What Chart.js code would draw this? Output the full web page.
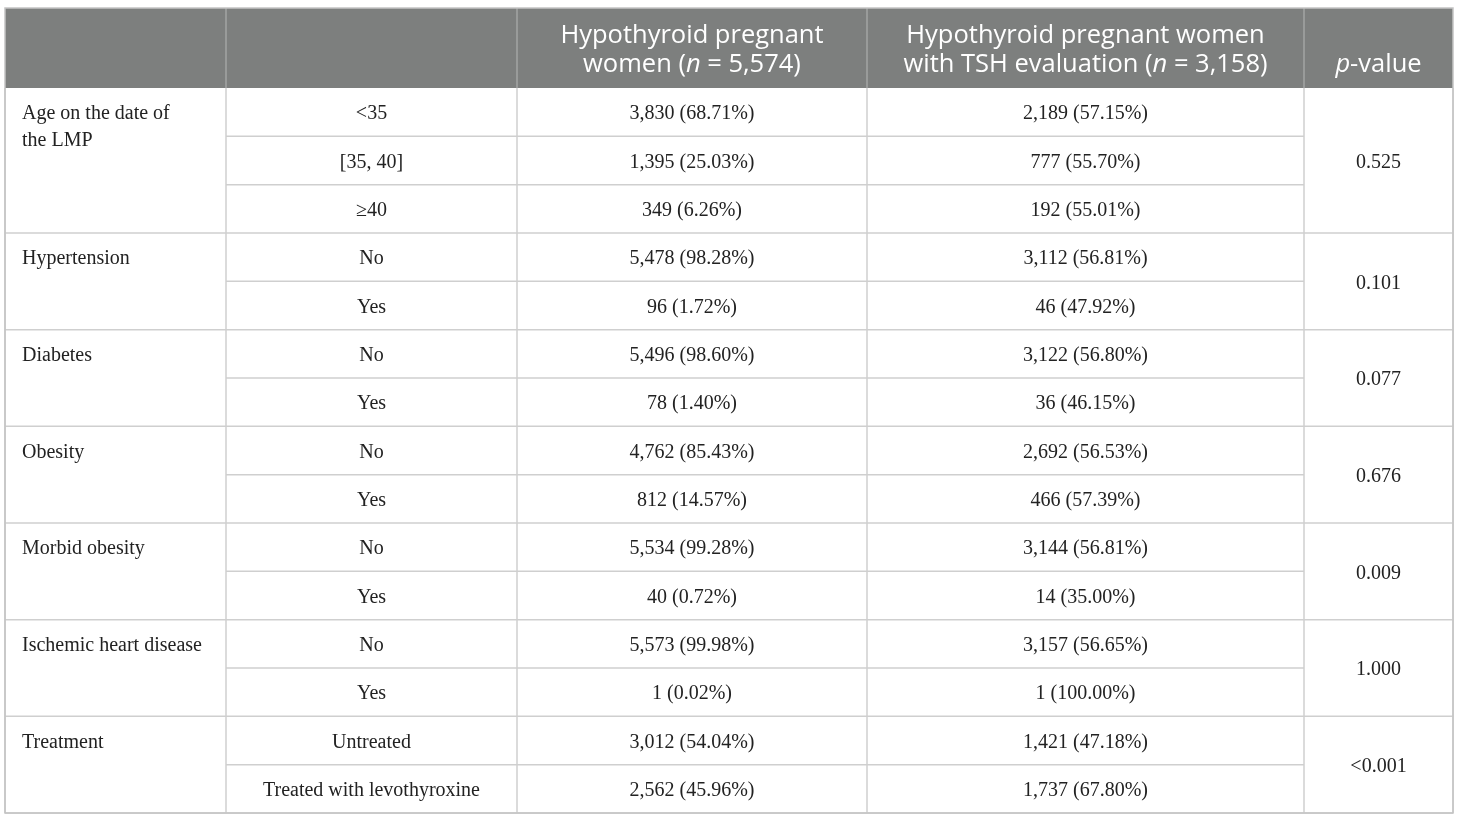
<!DOCTYPE html>
<html>
<head>
<meta charset="utf-8">
<script src="https://cdn.jsdelivr.net/npm/chart.js@4"></script>
<style>
html,body{margin:0;padding:0;background:#fff;}
#wrap{width:1460px;height:821px;position:relative;}
</style>
</head>
<body>
<div id="wrap"><canvas id="c"></canvas></div>
<script>
// ---- data ----
const headers = ["", "", "Hypothyroid pregnant\nwomen (*n* = 5,574)", "Hypothyroid pregnant women\nwith TSH evaluation (*n* = 3,158)", "\n*p*-value"];
const variables = ["Age on the date of\nthe LMP", "Hypertension", "Diabetes", "Obesity", "Morbid obesity", "Ischemic heart disease", "Treatment"];
const levels = [
  ["<35", "[35, 40]", "≥40"],
  ["No", "Yes"],
  ["No", "Yes"],
  ["No", "Yes"],
  ["No", "Yes"],
  ["No", "Yes"],
  ["Untreated", "Treated with levothyroxine"]
];
const allWomen = [
  ["3,830 (68.71%)", "1,395 (25.03%)", "349 (6.26%)"],
  ["5,478 (98.28%)", "96 (1.72%)"],
  ["5,496 (98.60%)", "78 (1.40%)"],
  ["4,762 (85.43%)", "812 (14.57%)"],
  ["5,534 (99.28%)", "40 (0.72%)"],
  ["5,573 (99.98%)", "1 (0.02%)"],
  ["3,012 (54.04%)", "2,562 (45.96%)"]
];
const tshWomen = [
  ["2,189 (57.15%)", "777 (55.70%)", "192 (55.01%)"],
  ["3,112 (56.81%)", "46 (47.92%)"],
  ["3,122 (56.80%)", "36 (46.15%)"],
  ["2,692 (56.53%)", "466 (57.39%)"],
  ["3,144 (56.81%)", "14 (35.00%)"],
  ["3,157 (56.65%)", "1 (100.00%)"],
  ["1,421 (47.18%)", "1,737 (67.80%)"]
];
const pValues = ["0.525", "0.101", "0.077", "0.676", "0.009", "1.000", "<0.001"];

// ---- layout (column edges in x-scale units, header height in row units) ----
const colEdges = [0, 221, 512, 862, 1299, 1448];
const headerRows = 1.655;
const totalRows = levels.reduce((s, l) => s + l.length, 0);

const GRID = '#cfcfcf';
const HEAD_BG = '#7d7f7e';
const SERIF = '"Liberation Serif", "DejaVu Serif", serif';
const SANS = '"Open Sans", "Noto Sans", sans-serif';
const BODY_SIZE = 20;

function drawRich(ctx, text, x, y, size, align) {
  // supports *italic* segments
  const parts = text.split('*');
  const fonts = parts.map((p, i) => (i % 2 ? 'italic ' : '') + size + 'px ' + SANS);
  let w = 0;
  parts.forEach((p, i) => { ctx.font = fonts[i]; w += ctx.measureText(p).width; });
  let cx = align === 'center' ? x - w / 2 : x;
  ctx.textAlign = 'left';
  parts.forEach((p, i) => { ctx.font = fonts[i]; ctx.fillText(p, cx, y); cx += ctx.measureText(p).width; });
}

const tablePlugin = {
  id: 'tablePlugin',
  afterDraw(chart) {
    const ctx = chart.ctx;
    const xs = chart.scales.x, ys = chart.scales.y;
    const X = v => xs.getPixelForValue(v);
    const Y = v => ys.getPixelForValue(v);
    ctx.save();
    // header background
    ctx.fillStyle = HEAD_BG;
    ctx.fillRect(X(colEdges[0]), Y(-headerRows), X(colEdges[5]) - X(colEdges[0]), Y(0) - Y(-headerRows));
    // header column dividers
    ctx.strokeStyle = '#a3a5a4';
    ctx.lineWidth = 1.5;
    for (let i = 1; i < colEdges.length - 1; i++) {
      ctx.beginPath(); ctx.moveTo(X(colEdges[i]), Y(-headerRows)); ctx.lineTo(X(colEdges[i]), Y(0)); ctx.stroke();
    }
    // header text
    ctx.fillStyle = '#ffffff';
    ctx.textBaseline = 'middle';
    headers.forEach((h, i) => {
      if (!h) return;
      const cx = (X(colEdges[i]) + X(colEdges[i + 1])) / 2;
      const lines = h.split('\n');
      const midY = (Y(-headerRows) + Y(0)) / 2;
      const lh = 29;
      lines.forEach((ln, k) => {
        if (ln) drawRich(ctx, ln, cx, midY + (k - 0.5) * lh + 2, 25.5, 'center');
      });
    });

    // body
    ctx.strokeStyle = GRID;
    ctx.lineWidth = 1.5;
    let r = 0;
    variables.forEach((v, g) => {
      const n = levels[g].length;
      const top = r, bot = r + n;
      // group text (left, top aligned)
      ctx.fillStyle = '#222';
      ctx.font = BODY_SIZE + 'px ' + SERIF;
      ctx.textAlign = 'left';
      ctx.textBaseline = 'middle';
      v.split('\n').forEach((ln, k) => {
        ctx.fillText(ln, X(colEdges[0]) + 17, (Y(top) + Y(top + 1)) / 2 + 2 + k * 27);
      });
      // p-value
      ctx.textAlign = 'center';
      ctx.fillText(pValues[g], (X(colEdges[4]) + X(colEdges[5])) / 2, (Y(top) + Y(bot)) / 2 + 2);
      for (let k = 0; k < n; k++) {
        const cy = (Y(top + k) + Y(top + k + 1)) / 2 + 2;
        ctx.fillText(levels[g][k], (X(colEdges[1]) + X(colEdges[2])) / 2, cy);
        ctx.fillText(allWomen[g][k], (X(colEdges[2]) + X(colEdges[3])) / 2, cy);
        ctx.fillText(tshWomen[g][k], (X(colEdges[3]) + X(colEdges[4])) / 2, cy);
        // inner row divider (columns 1..3)
        if (k > 0) {
          ctx.beginPath(); ctx.moveTo(X(colEdges[1]), Y(top + k)); ctx.lineTo(X(colEdges[4]), Y(top + k)); ctx.stroke();
        }
      }
      // group bottom line
      ctx.beginPath(); ctx.moveTo(X(colEdges[0]), Y(bot)); ctx.lineTo(X(colEdges[5]), Y(bot)); ctx.stroke();
      r = bot;
    });
    // vertical lines in body
    colEdges.forEach(e => {
      ctx.beginPath(); ctx.moveTo(X(e), Y(0)); ctx.lineTo(X(e), Y(totalRows)); ctx.stroke();
    });
    // outer border
    ctx.strokeStyle = '#c4c4c4';
    ctx.strokeRect(X(colEdges[0]), Y(-headerRows), X(colEdges[5]) - X(colEdges[0]), Y(totalRows) - Y(-headerRows));
    ctx.restore();
  }
};

new Chart(document.getElementById('c'), {
  type: 'scatter',
  data: { datasets: [{ data: [], pointRadius: 0 }] },
  options: {
    responsive: true,
    maintainAspectRatio: false,
    animation: false,
    layout: { padding: { left: 5, right: 7, top: 8, bottom: 8 } },
    plugins: { legend: { display: false }, tooltip: { enabled: false } },
    scales: {
      x: { type: 'linear', min: colEdges[0], max: colEdges[colEdges.length - 1], display: false },
      y: { type: 'linear', min: -headerRows, max: totalRows, reverse: true, display: false }
    }
  },
  plugins: [tablePlugin]
});
</script>
</body>
</html>
